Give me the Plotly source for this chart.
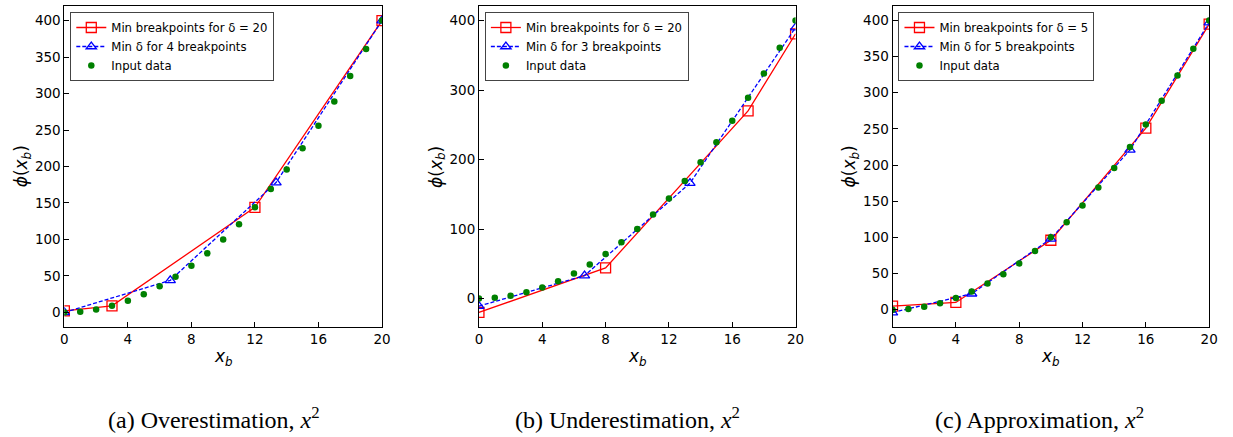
import plotly.graph_objects as go

# Input data: phi(x) = x^2 sampled on integers 0..20
input_x = list(range(0, 21))
input_y = [x * x for x in input_x]

x_ticks = [0, 4, 8, 12, 16, 20]

# (a) Overestimation
a_red_x = [0, 3, 12, 20]
a_red_y = [2, 9, 144, 400]
a_blue_x = [0, 6.67, 13.33, 20]
a_blue_y = [0, 44, 178, 400]

# (b) Underestimation
b_red_x = [0, 8, 17, 20]
b_red_y = [-20, 44, 270, 381]
b_blue_x = [0, 6.67, 13.33, 20]
b_blue_y = [-11, 33, 166, 390]

# (c) Approximation
c_red_x = [0, 4, 10, 16, 20]
c_red_y = [5, 10, 96, 251, 395]
c_blue_x = [0, 5, 10, 15, 20]
c_blue_y = [-4, 22, 98, 221, 397]

panels = [
    dict(red=(a_red_x, a_red_y), blue=(a_blue_x, a_blue_y),
         red_name="Min breakpoints for δ = 20", blue_name="Min δ for 4 breakpoints",
         yrange=[-20, 420], ytick=50, caption="(a) Overestimation, <i>x</i><sup>2</sup>",
         cap_x=212),
    dict(red=(b_red_x, b_red_y), blue=(b_blue_x, b_blue_y),
         red_name="Min breakpoints for δ = 20", blue_name="Min δ for 3 breakpoints",
         yrange=[-41, 421], ytick=100, caption="(b) Underestimation, <i>x</i><sup>2</sup>",
         cap_x=630),
    dict(red=(c_red_x, c_red_y), blue=(c_blue_x, c_blue_y),
         red_name="Min breakpoints for δ = 5", blue_name="Min δ for 5 breakpoints",
         yrange=[-24, 420], ytick=50, caption="(c) Approximation, <i>x</i><sup>2</sup>",
         cap_x=1047),
]

W, H = 1233, 437
# plot-area pixel extents for each panel (left, right)
x_px = [(61, 382), (480, 800), (898, 1218)]
y_top, y_bot = 6, 327

FONT = "DejaVu Sans"
fig = go.Figure()
layout = dict(
    width=W, height=H,
    margin=dict(l=0, r=0, t=0, b=0),
    paper_bgcolor="white", plot_bgcolor="white",
    showlegend=True,
    font=dict(family=FONT, color="black"),
)
annotations = []

for i, p in enumerate(panels):
    n = i + 1
    xa = "x" if n == 1 else f"x{n}"
    ya = "y" if n == 1 else f"y{n}"
    lg = "legend" if n == 1 else f"legend{n}"

    fig.add_trace(go.Scatter(
        x=p["red"][0], y=p["red"][1], mode="lines+markers", name=p["red_name"],
        line=dict(color="#ff0000", width=1.3),
        marker=dict(symbol="square-open", size=10, color="#ff0000", line=dict(width=1.3)),
        xaxis=xa, yaxis=ya, legend=lg))
    fig.add_trace(go.Scatter(
        x=p["blue"][0], y=p["blue"][1], mode="lines+markers", name=p["blue_name"],
        line=dict(color="#0000ff", width=1.3, dash="4px,2px"),
        marker=dict(symbol="triangle-up-open", size=9, color="#0000ff", line=dict(width=1.3)),
        xaxis=xa, yaxis=ya, legend=lg))
    fig.add_trace(go.Scatter(
        x=input_x, y=input_y, mode="markers", name="Input data",
        marker=dict(symbol="circle", size=6.5, color="#008000"),
        xaxis=xa, yaxis=ya, legend=lg))

    l, r = x_px[i]
    axis_common = dict(
        showline=True, mirror=True, linecolor="black", linewidth=1,
        ticks="inside", ticklen=5, tickwidth=1, tickcolor="black",
        showgrid=False, zeroline=False,
        tickfont=dict(family=FONT, size=13.5, color="black"),
    )
    layout["xaxis" if n == 1 else f"xaxis{n}"] = dict(
        domain=[l / W, r / W], anchor=ya, range=[0, 20],
        tickvals=x_ticks, **axis_common)
    layout["yaxis" if n == 1 else f"yaxis{n}"] = dict(
        domain=[1 - y_bot / H, 1 - y_top / H], anchor=xa, range=p["yrange"],
        dtick=p["ytick"], tick0=0, **axis_common)

    legend_left = {1: 67, 2: 486, 3: 904}[n]
    layout[lg] = dict(
        x=legend_left / W, y=1 - 12 / H, xanchor="left", yanchor="top",
        bgcolor="rgba(255,255,255,0.85)", bordercolor="#444444", borderwidth=1,
        font=dict(family=FONT, size=11.7, color="black"),
        tracegroupgap=0,
    )

    # axis labels
    annotations.append(dict(
        text="<i>x</i><sub><i>b</i></sub>", xref="paper", yref="paper",
        x=(l + r) / 2 / W, y=1 - 357 / H, xanchor="center", yanchor="middle",
        showarrow=False, font=dict(family=FONT, size=17, color="black")))
    annotations.append(dict(
        text="<i>ϕ</i>(<i>x</i><sub><i>b</i></sub>)", xref="paper", yref="paper",
        x=(l - 42) / W, y=1 - (y_top + y_bot) / 2 / H, xanchor="center", yanchor="middle",
        textangle=-90, showarrow=False, font=dict(family=FONT, size=17, color="black")))
    # caption
    annotations.append(dict(
        text=p["caption"], xref="paper", yref="paper",
        x=p["cap_x"] / W, y=1 - 418 / H, xanchor="center", yanchor="middle",
        showarrow=False, font=dict(family="Liberation Serif", size=24, color="black")))

layout["annotations"] = annotations
fig.update_layout(**layout)
fig.write_html("out.html")
